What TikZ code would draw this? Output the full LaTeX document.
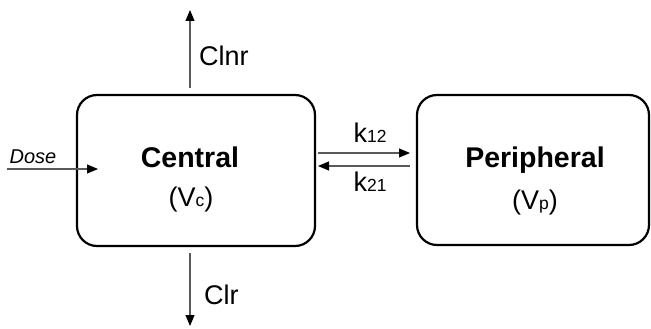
\documentclass[tikz,border=0pt]{standalone}
\usepackage{fontspec}
\setmainfont{Liberation Sans}
\usetikzlibrary{arrows.meta}
\newcommand{\sm}[1]{{\fontsize{17.5}{17.5}\selectfont #1}}
\begin{document}
\begin{tikzpicture}[x=1pt,y=-1pt,
  compart/.style={draw=black,line width=2.2pt,rounded corners=20pt},
  flow/.style={draw=black!65,line width=1.1pt,-{Triangle[length=11pt,width=9pt,color=black]}},
  lbl/.style={font=\fontsize{27}{27}\selectfont,inner sep=0pt},
  title/.style={font=\fontsize{28.5}{29}\selectfont\bfseries,inner sep=0pt}]
\useasboundingbox (0,0) rectangle (651,329);
% compartments
\draw[compart] (77,95) rectangle (315,246);
\draw[compart] (417,95) rectangle (649,245);
\node[title] (ctitle) at (190,157) {Central};
\node[lbl] (cvol) at (191,200) {(V\sm{c})};
\node[title] (ptitle) at (535,160) {Peripheral};
\node[lbl] (pvol) at (535,203) {(V\sm{p})};
% clearance and dosing
\coordinate (upA) at (190,88);
\coordinate (upB) at (190,10);
\coordinate (dnA) at (190,253);
\coordinate (dnB) at (190,326);
\coordinate (doseA) at (7,169);
\coordinate (doseB) at (98,169);
\draw[flow] (upA) -- (upB);
\draw[flow] (dnA) -- (dnB);
\draw[flow] (doseA) -- (doseB);
\node[lbl,anchor=west] (clnr) at (199,56) {Clnr};
\node[lbl,anchor=west] (clr) at (204,295) {Clr};
\node[inner sep=0pt,font=\fontsize{20}{20}\selectfont\itshape] (dose) at (33,157) {Dose};
% inter-compartmental transfer
\coordinate (k1a) at (318,153);
\coordinate (k1b) at (410,153);
\coordinate (k2a) at (410,166);
\coordinate (k2b) at (318,166);
\draw[flow] (k1a) -- (k1b);
\draw[flow] (k2a) -- (k2b);
\node[lbl] (k12) at (370,133) {k\sm{12}};
\node[lbl] (k21) at (370,182) {k\sm{21}};
\end{tikzpicture}
\end{document}
